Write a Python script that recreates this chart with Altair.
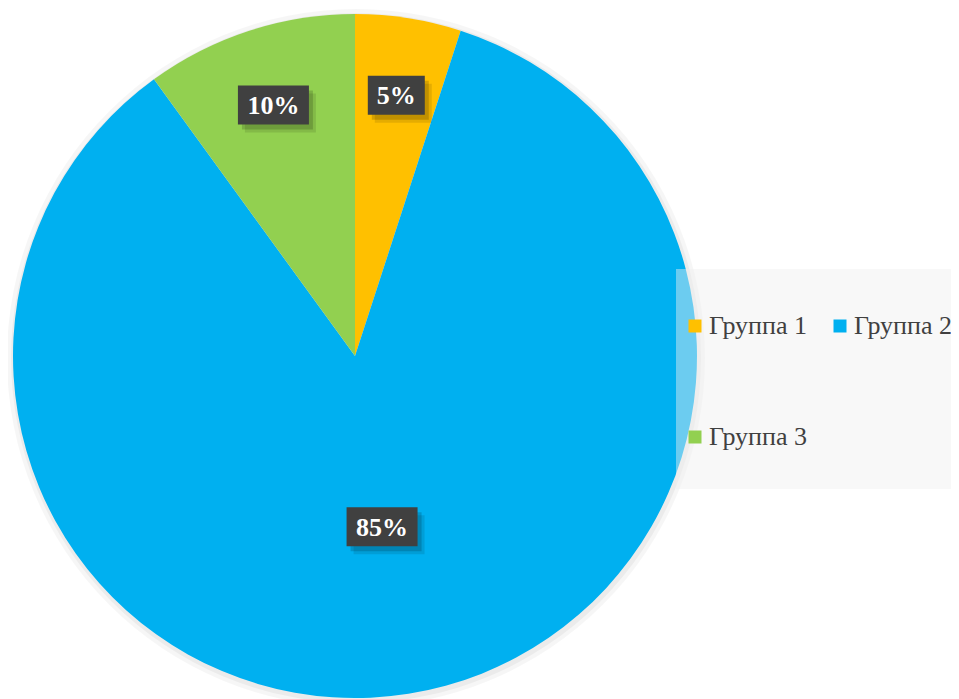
import altair as alt
import pandas as pd

groups = ["Группа 1", "Группа 2", "Группа 3"]
shares = [5, 85, 10]
labels = ["5%", "85%", "10%"]
colors = ["#FFC000", "#00B0F0", "#92D050"]

df = pd.DataFrame({"group": groups, "share": shares, "label": labels})

W, H = 943, 691
CX, CY, R = 347, 348, 342
SERIF = "Liberation Serif"

base = alt.Chart(df)

color = alt.Color(
    "group:N",
    scale=alt.Scale(domain=groups, range=colors),
    legend=alt.Legend(
        orient="none", legendX=674, legendY=305, direction="horizontal", columns=2,
        symbolType="square", symbolSize=169, symbolStrokeWidth=0,
        labelFont=SERIF, labelFontSize=26, labelColor="#404040",
        title=None, rowPadding=85, columnPadding=20, labelOffset=1, padding=0,
    ),
)

shadow = base.transform_filter(alt.datum.group == groups[0]).mark_arc(
    color="#000000", opacity=0.035, radius=R + 7
).encode(theta=alt.value(0), theta2=alt.value(6.2832),
         x=alt.value(CX + 1), y=alt.value(CY + 2))
shadow2 = base.transform_filter(alt.datum.group == groups[0]).mark_arc(
    color="#000000", opacity=0.045, radius=R + 3
).encode(theta=alt.value(0), theta2=alt.value(6.2832),
         x=alt.value(CX + 1), y=alt.value(CY + 2))

pie = base.mark_arc(radius=R, strokeWidth=0).encode(
    theta=alt.Theta("share:Q", stack=True),
    color=color,
    order=alt.Order("group:N"),
    x=alt.value(CX), y=alt.value(CY),
)

pos = base.transform_window(
    cum="sum(share)", frame=[None, 0], sort=[alt.SortField("group")]
).transform_joinaggregate(total="sum(share)").transform_calculate(
    mid="(datum.cum - datum.share/2)/datum.total*2*PI",
    lr="datum.share > 50 ? 173 : 264",
    lx=f"{CX} + datum.lr*sin(datum.mid)",
    ly=f"{CY} - datum.lr*cos(datum.mid)",
    bw="14*length(datum.label)+29",
    bx0="datum.lx - datum.bw/2",
    bx1="datum.lx + datum.bw/2",
    by0="datum.ly - 19.5",
    by1="datum.ly + 19.5",
    sx0="datum.bx0 + 4",
    sx1="datum.bx1 + 4",
    sy0="datum.by0 + 5",
    sy1="datum.by1 + 5",
    tx0="datum.bx0 + 7",
    tx1="datum.bx1 + 7",
    ty0="datum.by0 + 8",
    ty1="datum.by1 + 8",
)

box_shadow2 = pos.mark_rect(color="#000000", opacity=0.1).encode(
    x=alt.X("tx0:Q", scale=None, axis=None), x2="tx1:Q",
    y=alt.Y("ty0:Q", scale=None, axis=None), y2="ty1:Q",
)
box_shadow = pos.mark_rect(color="#000000", opacity=0.16).encode(
    x=alt.X("sx0:Q", scale=None, axis=None), x2="sx1:Q",
    y=alt.Y("sy0:Q", scale=None, axis=None), y2="sy1:Q",
)
box = pos.mark_rect(color="#404040").encode(
    x=alt.X("bx0:Q", scale=None, axis=None), x2="bx1:Q",
    y=alt.Y("by0:Q", scale=None, axis=None), y2="by1:Q",
)
text = pos.mark_text(
    font=SERIF, fontSize=26, fontWeight="bold", color="#ffffff",
    align="center", baseline="middle", dy=1,
).encode(
    x=alt.X("lx:Q", scale=None, axis=None),
    y=alt.Y("ly:Q", scale=None, axis=None),
    text="label:N",
)

legend_bg = base.transform_filter(alt.datum.group == groups[0]).mark_rect(
    fill="rgba(240,240,240,0.45)"
).encode(x=alt.value(668), x2=alt.value(951), y=alt.value(261), y2=alt.value(481))

chart = alt.layer(shadow, shadow2, pie, legend_bg, box_shadow2, box_shadow, box, text).properties(
    width=W, height=H, padding=0, background="#ffffff",
    autosize=alt.AutoSizeParams(type="none"),
).configure_view(stroke=None)

chart.save("out.html", embed_options={"renderer": "svg", "actions": False})
